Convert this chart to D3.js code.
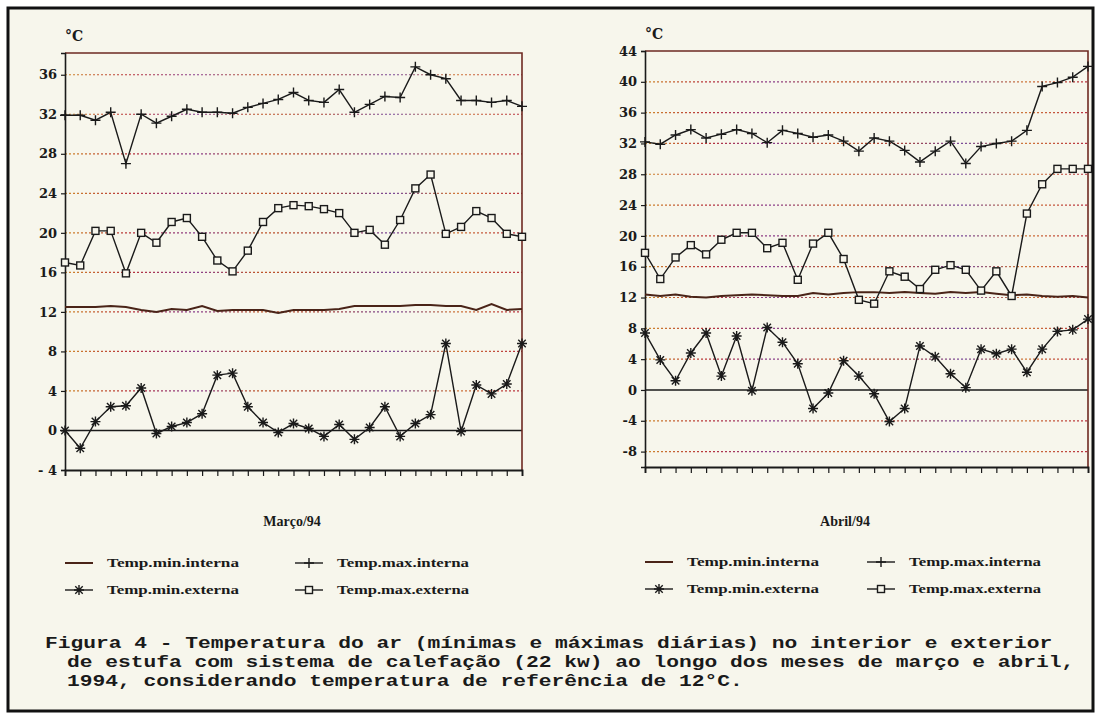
<!DOCTYPE html>
<html>
<head>
<meta charset="utf-8">
<script src="https://cdn.jsdelivr.net/npm/d3@7"></script>
<style>
  body { margin: 0; background: #ffffff; }
  svg { display: block; }
</style>
</head>
<body>
<svg id="chart" width="1101" height="720" viewBox="0 0 1101 720"></svg>
<script>
// march 1994 (31 days)
const marDays = d3.range(1, 32)
const marMinInt = [12.5,12.5,12.5,12.6,12.5,12.2,12.0,12.3,12.2,12.6,12.1,12.2,12.2,12.2,11.9,12.2,12.2,12.2,12.3,12.6,12.6,12.6,12.6,12.7,12.7,12.6,12.6,12.2,12.8,12.2,12.3]
const marMaxInt = [31.9,31.9,31.4,32.2,27.0,32.0,31.1,31.8,32.5,32.2,32.2,32.1,32.7,33.1,33.5,34.2,33.4,33.2,34.5,32.2,33.0,33.8,33.7,36.8,36.0,35.6,33.4,33.4,33.2,33.4,32.8]
const marMinExt = [0.0,-1.8,0.9,2.4,2.5,4.3,-0.3,0.4,0.8,1.7,5.6,5.8,2.4,0.8,-0.2,0.7,0.2,-0.6,0.6,-0.9,0.3,2.4,-0.6,0.7,1.6,8.8,-0.1,4.6,3.7,4.7,8.8]
const marMaxExt = [17.0,16.7,20.2,20.2,15.9,20.0,19.0,21.1,21.5,19.6,17.2,16.1,18.2,21.1,22.5,22.8,22.7,22.4,22.0,20.0,20.3,18.8,21.3,24.5,25.9,19.9,20.6,22.2,21.5,19.9,19.6]
const marTicks = [36, 32, 28, 24, 20, 16, 12, 8, 4, 0, -4]

// april 1994 (30 days)
const aprDays = d3.range(1, 31)
const aprMinInt = [12.4,12.2,12.4,12.1,12.0,12.2,12.3,12.4,12.3,12.2,12.2,12.6,12.4,12.6,12.7,12.7,12.6,12.7,12.6,12.5,12.7,12.6,12.7,12.5,12.3,12.4,12.2,12.1,12.2,12.0]
const aprMaxInt = [32.2,31.9,33.1,33.8,32.7,33.2,33.8,33.3,32.1,33.7,33.3,32.8,33.1,32.3,31.0,32.7,32.3,31.1,29.6,31.0,32.3,29.4,31.6,32.0,32.3,33.7,39.4,39.9,40.6,42.0]
const aprMinExt = [7.4,3.9,1.2,4.8,7.4,1.8,7.0,-0.1,8.1,6.2,3.4,-2.4,-0.4,3.8,1.8,-0.5,-4.1,-2.4,5.7,4.3,2.1,0.3,5.3,4.7,5.3,2.3,5.3,7.6,7.8,9.2]
const aprMaxExt = [17.8,14.4,17.2,18.8,17.6,19.5,20.4,20.4,18.4,19.1,14.3,19.0,20.4,17.0,11.7,11.2,15.4,14.7,13.1,15.6,16.2,15.6,12.9,15.4,12.2,22.9,26.7,28.7,28.7,28.7]
const aprTicks = [44, 40, 36, 32, 28, 24, 20, 16, 12, 8, 4, 0, -4, -8]

const seriesNames = ["Temp.min.interna", "Temp.max.interna", "Temp.min.externa", "Temp.max.externa"]
const seriesMarks = ["none", "plus", "star", "square"]

const caption = [
    "Figura 4 - Temperatura do ar (mínimas e máximas diárias) no interior e exterior",
    "de estufa com sistema de calefação (22 kw) ao longo dos meses de março e abril,",
    "1994, considerando temperatura de referência de 12°C."
]

let svg = d3.select("#chart")
let defs = svg.append("defs")

// page background + frame
svg.append("rect")
    .attr("x", 8).attr("y", 8)
    .attr("width", 1085).attr("height", 703)
    .attr("fill", "#f7f6ec")
    .attr("stroke", "#111")
    .attr("stroke-width", 3)

// scanned dotted gridlines look multicoloured
function gridGradient(id, x0, x1) {
    let g = defs.append("linearGradient")
        .attr("id", id)
        .attr("gradientUnits", "userSpaceOnUse")
        .attr("x1", x0).attr("x2", x1)
        .attr("y1", 0).attr("y2", 0)
    let cols = ["#d08a2c", "#b8323a", "#8a3f8f", "#c0572a", "#a8443c", "#7a4a9a", "#d0783a", "#b83040"]
    cols.forEach(function(c, i) {
        g.append("stop").attr("offset", i / (cols.length - 1)).attr("stop-color", c)
    })
}

function marker(sel, type, size) {
    let s = size
    if (type == "plus") {
        sel.append("path")
            .attr("d", `M${-s},0H${s}M0,${-s}V${s}`)
            .attr("stroke", "#1a1a1a").attr("stroke-width", 1.4).attr("fill", "none")
    } else if (type == "star") {
        let d = s * 0.75
        sel.append("path")
            .attr("d", `M${-s},0H${s}M0,${-s}V${s}M${-d},${-d}L${d},${d}M${-d},${d}L${d},${-d}`)
            .attr("stroke", "#1a1a1a").attr("stroke-width", 1.4).attr("fill", "none")
    } else if (type == "square") {
        sel.append("rect")
            .attr("x", -s + 0.5).attr("y", -s + 0.5)
            .attr("width", 2 * s - 1).attr("height", 2 * s - 1)
            .attr("fill", "#f7f6ec")
            .attr("stroke", "#1a1a1a").attr("stroke-width", 1.4)
    }
}

function drawPanel(cfg) {
    let x = d3.scaleLinear().domain([1, cfg.days.length]).range([cfg.left, cfg.right])
    let y = d3.scaleLinear().domain(cfg.domain).range([cfg.bottom, cfg.top])
    let g = svg.append("g")

    gridGradient(cfg.id + "grad", cfg.left, cfg.right)

    // dotted gridlines
    g.selectAll(".grid")
        .data(cfg.ticks.filter(function(t) { return t != 0 && t != cfg.domain[0] && y(t) > cfg.top + 2 }))
        .enter()
        .append("line")
        .attr("x1", cfg.left).attr("x2", cfg.right)
        .attr("y1", function(d) { return y(d) }).attr("y2", function(d) { return y(d) })
        .attr("stroke", `url(#${cfg.id}grad)`)
        .attr("stroke-width", 1.2)
        .attr("stroke-dasharray", "2,2")

    // zero line
    g.append("line")
        .attr("x1", cfg.left).attr("x2", cfg.right)
        .attr("y1", y(0)).attr("y2", y(0))
        .attr("stroke", "#1a1a1a").attr("stroke-width", 1.6)

    // top and right frame
    g.append("path")
        .attr("d", `M${cfg.left},${cfg.top}H${cfg.right}V${cfg.bottom}`)
        .attr("fill", "none").attr("stroke", "#6e2a22").attr("stroke-width", 1.6)

    // y axis
    let yAxis = d3.axisLeft(y).tickValues(cfg.ticks).tickSize(4)
        .tickFormat(function(d) { return d < 0 ? "-" + (cfg.spaceMinus ? " " : "") + Math.abs(d) : d })
    let ya = g.append("g")
        .attr("transform", `translate(${cfg.left},0)`)
        .call(yAxis)
    ya.select(".domain").attr("stroke", "#1a1a1a").attr("stroke-width", 1.6)
    ya.selectAll(".tick line").attr("stroke", "#1a1a1a").attr("stroke-width", 1.2)
    ya.selectAll(".tick text")
        .attr("x", -8)
        .attr("fill", "#1a1a1a")
        .style("font-family", "'DejaVu Serif', serif")
        .style("font-weight", "bold")
        .style("font-size", "13px")

    // x axis: a tick under every day, no labels
    let xAxis = d3.axisBottom(x).tickValues(cfg.days).tickSize(6).tickFormat("")
    let xa = g.append("g")
        .attr("transform", `translate(0,${cfg.bottom})`)
        .call(xAxis)
    xa.select(".domain").attr("stroke", "#1a1a1a").attr("stroke-width", 1.8)
    xa.selectAll(".tick line").attr("stroke", "#1a1a1a").attr("stroke-width", 1.2)

    // unit label
    g.append("text")
        .attr("x", cfg.left).attr("y", cfg.top - 12)
        .attr("fill", "#1a1a1a")
        .style("font-family", "'DejaVu Serif', serif")
        .style("font-weight", "bold")
        .style("font-size", "14px")
        .text("°C")

    // month label
    g.append("text")
        .attr("x", cfg.labelX).attr("y", 526)
        .attr("text-anchor", "middle")
        .attr("fill", "#1a1a1a")
        .style("font-family", "'Liberation Serif', serif")
        .style("font-weight", "bold")
        .style("font-size", "14px")
        .text(cfg.month)

    // series
    let line = d3.line()
        .x(function(d, i) { return x(cfg.days[i]) })
        .y(function(d) { return y(d) })

    cfg.series.forEach(function(vals, k) {
        g.append("path")
            .datum(vals)
            .attr("d", line)
            .attr("fill", "none")
            .attr("stroke", k == 0 ? "#4a2418" : "#1a1a1a")
            .attr("stroke-width", k == 0 ? 2 : 1.4)
        if (seriesMarks[k] != "none") {
            g.selectAll(".m" + k)
                .data(vals)
                .enter()
                .append("g")
                .attr("transform", function(d, i) { return `translate(${x(cfg.days[i])},${y(d)})` })
                .each(function() { marker(d3.select(this), seriesMarks[k], seriesMarks[k] == "square" ? 4 : 5) })
        }
    })

    // legend, two columns by two rows
    let lg = g.append("g")
    seriesNames.forEach(function(name, k) {
        let col = k % 2, row = Math.floor(k / 2)
        let lx = cfg.legendX[col], ly = cfg.legendY + row * 27
        lg.append("line")
            .attr("x1", lx).attr("x2", lx + 28)
            .attr("y1", ly).attr("y2", ly)
            .attr("stroke", k == 0 ? "#4a2418" : "#1a1a1a")
            .attr("stroke-width", k == 0 ? 2 : 1.4)
        if (seriesMarks[k] != "none") {
            marker(lg.append("g").attr("transform", `translate(${lx + 14},${ly})`),
                seriesMarks[k], seriesMarks[k] == "square" ? 4 : 5)
        }
        lg.append("text")
            .attr("x", lx + 42).attr("y", ly + 4)
            .attr("fill", "#1a1a1a")
            .attr("textLength", 132)
            .attr("lengthAdjust", "spacingAndGlyphs")
            .style("font-family", "'Liberation Serif', serif")
            .style("font-weight", "bold")
            .style("font-size", "13px")
            .text(name)
    })
}

drawPanel({
    id: "mar", month: "Março/94", days: marDays,
    series: [marMinInt, marMaxInt, marMinExt, marMaxExt],
    domain: [-4, 38.2], ticks: marTicks, spaceMinus: true,
    left: 65, right: 522, top: 53, bottom: 470,
    labelX: 292, legendX: [65, 295], legendY: 563
})

drawPanel({
    id: "apr", month: "Abril/94", days: aprDays,
    series: [aprMinInt, aprMaxInt, aprMinExt, aprMaxExt],
    domain: [-10, 44], ticks: aprTicks, spaceMinus: false,
    left: 645, right: 1088, top: 51, bottom: 467,
    labelX: 845, legendX: [645, 867], legendY: 562
})

// figure caption
let cap = svg.append("g")
cap.selectAll("text")
    .data(caption)
    .enter()
    .append("text")
    .attr("x", function(d, i) { return i == 0 ? 45 : 67 })
    .attr("y", function(d, i) { return 648 + i * 19 })
    .attr("textLength", function(d) { return d.length * 12.75 })
    .attr("lengthAdjust", "spacingAndGlyphs")
    .attr("fill", "#1a1a1a")
    .style("font-family", "'Liberation Mono', monospace")
    .style("font-weight", "bold")
    .style("font-size", "16px")
    .text(function(d) { return d })
</script>
</body>
</html>
